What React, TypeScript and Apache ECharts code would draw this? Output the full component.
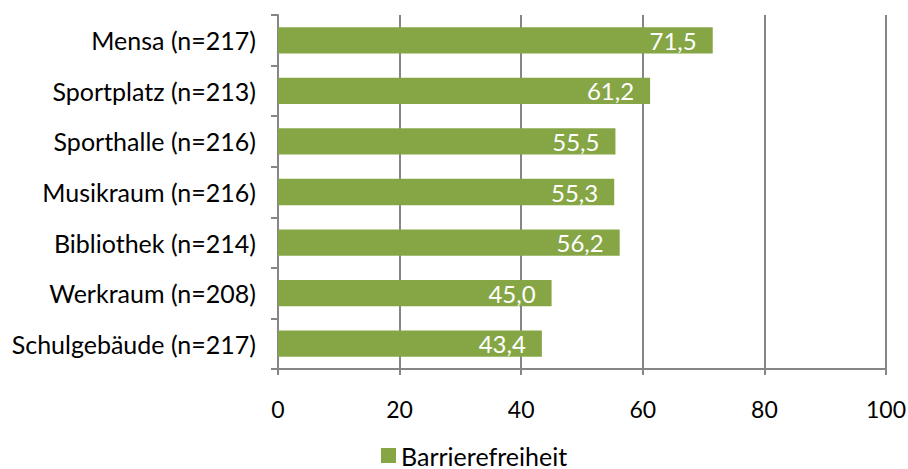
import React, { useEffect, useRef } from "react";
import * as echarts from "echarts";

const categories = [
  "Schulgebäude (n=217)",
  "Werkraum (n=208)",
  "Bibliothek (n=214)",
  "Musikraum (n=216)",
  "Sporthalle (n=216)",
  "Sportplatz (n=213)",
  "Mensa (n=217)",
];
const values = [43.4, 45.0, 56.2, 55.3, 55.5, 61.2, 71.5];
const seriesName = "Barrierefreiheit";
const xMin = 0;
const xMax = 100;
const xInterval = 20;

const FONT = "Lato, 'Open Sans', sans-serif";
const GREEN = "#86a646";
const GREY = "#868686";

export default function App() {
  const ref = useRef<HTMLDivElement>(null);
  useEffect(() => {
    if (!ref.current) return;
    const chart = echarts.init(ref.current, null, { renderer: "svg" });
    chart.setOption({
      animation: false,
      textStyle: { fontFamily: FONT },
      grid: {
        left: 278,
        right: 22,
        top: 15,
        bottom: 100,
        containLabel: false,
        outerBoundsMode: "none",
      },
      legend: {
        top: 438,
        left: 376,
        icon: "rect",
        itemWidth: 15,
        itemHeight: 15,
        itemGap: 5,
        textStyle: { fontSize: 25, color: "#000", fontFamily: FONT },
        data: [seriesName],
      },
      xAxis: {
        type: "value",
        min: xMin,
        max: xMax,
        interval: xInterval,
        axisLine: { show: true, lineStyle: { color: GREY, width: 2 } },
        axisTick: { show: true, length: 6, lineStyle: { color: GREY, width: 2 } },
        splitLine: { show: true, lineStyle: { color: GREY, width: 2 } },
        axisLabel: { fontSize: 23, color: "#000", margin: 28, fontFamily: FONT },
      },
      yAxis: {
        type: "category",
        data: categories,
        axisLine: { show: true, lineStyle: { color: GREY, width: 2 } },
        axisTick: { show: true, length: 7, alignWithLabel: false, lineStyle: { color: GREY, width: 2 } },
        axisLabel: { fontSize: 25, color: "#000", margin: 22, fontFamily: FONT },
      },
      series: [
        {
          name: seriesName,
          type: "bar",
          data: values,
          barCategoryGap: "48%",
          itemStyle: { color: GREEN },
          label: {
            show: true,
            position: "insideRight",
            distance: 16,
            color: "#fff",
            fontSize: 24,
            fontFamily: FONT,
            formatter: (p: any) => Number(p.value).toFixed(1).replace(".", ","),
          },
        },
      ],
    });
    return () => chart.dispose();
  }, []);
  return (
    <div
      ref={ref}
      style={{ position: "absolute", left: 0, top: 0, width: 908, height: 469 }}
    />
  );
}
